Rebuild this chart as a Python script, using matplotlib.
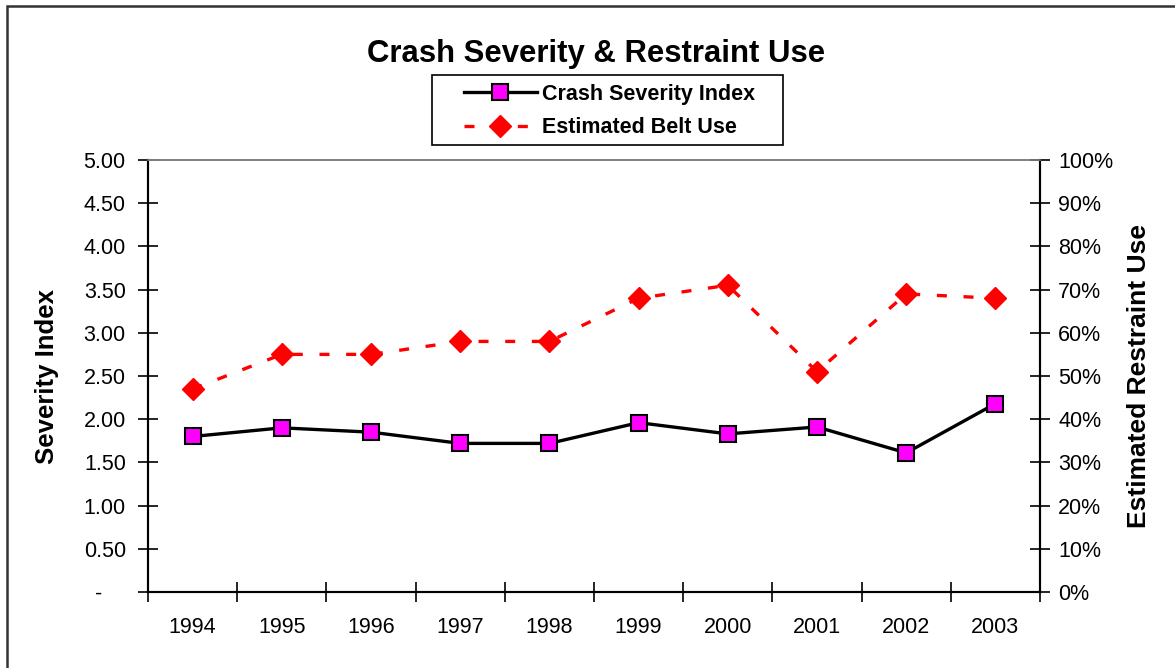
import matplotlib
matplotlib.use("Agg")
import matplotlib.pyplot as plt
from matplotlib.patches import Rectangle
from matplotlib.ticker import FixedLocator, FuncFormatter
import numpy as np

years = ["1994", "1995", "1996", "1997", "1998", "1999", "2000", "2001", "2002", "2003"]
severity_index = [1.80, 1.90, 1.85, 1.72, 1.72, 1.96, 1.83, 1.91, 1.61, 2.18]
belt_use_pct = [47, 55, 55, 58, 58, 68, 71, 51, 69, 68]

plt.rcParams['font.family'] = ['Liberation Sans', 'DejaVu Sans']

W, H = 1175, 668
fig = plt.figure(figsize=(W / 100, H / 100), dpi=100)
fig.patch.set_facecolor('white')

# outer chart border (extends past right/bottom edges)
fig.patches.append(Rectangle((7 / W, -0.05), 1.2, 1 - 5.5 / H + 0.05, transform=fig.transFigure,
                             fill=False, edgecolor='#333333', linewidth=1.8, zorder=0))
# legend frame
fig.patches.append(Rectangle((432 / W, 1 - 145 / H), (783 - 432) / W, 70 / H,
                             transform=fig.transFigure, fill=False, edgecolor='black',
                             linewidth=1.2, zorder=1))

ax = fig.add_axes([148 / W, 1 - 592 / H, (1040 - 148) / W, (592 - 160) / H])
ax2 = ax.twinx()

x = np.arange(len(years))

l1, = ax.plot(x, severity_index, color='black', linewidth=2.4, marker='s', markersize=11.5,
              markerfacecolor='#ff00ff', markeredgecolor='black', markeredgewidth=1.5,
              label='Crash Severity Index', zorder=3)
l2, = ax2.plot(x, belt_use_pct, color='#ff0000', linewidth=2.4, linestyle=(0, (3, 5)),
               marker='D', markersize=11, markerfacecolor='#ff0000', markeredgecolor='#ff0000',
               label='Estimated Belt Use', zorder=3)

ax.set_xlim(-0.5, len(years) - 0.5)
ax.set_ylim(0, 5)
ax2.set_ylim(0, 100)

ax.xaxis.set_major_locator(FixedLocator(np.arange(-0.5, len(years), 1.0)))
ax.xaxis.set_major_formatter(FuncFormatter(lambda v, p: ''))
ax.set_xticks(x, minor=True)
ax.set_xticklabels(years, minor=True, fontsize=15.5)
ax.tick_params(axis='x', which='major', direction='inout', length=14, width=1.2)
ax.tick_params(axis='x', which='minor', length=0, pad=18)

ax.set_yticks(np.arange(0, 5.01, 0.5))
ax.yaxis.set_major_formatter(FuncFormatter(lambda v, p: '-    ' if abs(v) < 1e-9 else f'{v:.2f}'))
ax.tick_params(axis='y', direction='inout', length=14, width=1.2, labelsize=15.5, pad=9)

ax2.set_yticks(np.arange(0, 101, 10))
ax2.yaxis.set_major_formatter(FuncFormatter(lambda v, p: f'{int(v)}%'))
ax2.tick_params(axis='y', direction='inout', length=14, width=1.2, labelsize=15.5, pad=6)

for a in (ax, ax2):
    a.spines['top'].set_color('#808080')
    a.spines['top'].set_linewidth(1.2)
    for s in ('left', 'right', 'bottom'):
        a.spines[s].set_color('black')
        a.spines[s].set_linewidth(1.5)

ax.set_ylabel('Severity Index', fontsize=18.5, fontweight='bold', va='center')
ax.yaxis.set_label_coords((47 - 148) / 892, 0.5)
ax2.set_ylabel('Estimated Restraint Use', fontsize=19, fontweight='bold', va='center')
ax2.yaxis.set_label_coords((1139 - 148) / 892, 0.5)

fig.text(596 / W, 1 - 54 / H, 'Crash Severity & Restraint Use', ha='center', va='center',
         fontsize=22.4, fontweight='bold')

leg = fig.legend(handles=[l1, l2], loc='center', bbox_to_anchor=(609.5 / W, 1 - 111 / H),
                 prop={'size': 15.5, 'weight': 'bold'}, frameon=False,
                 handlelength=3.4, handletextpad=0.25, borderpad=0.0,
                 labelspacing=0.6)

fig.savefig('out.png', dpi=100, facecolor='white')
